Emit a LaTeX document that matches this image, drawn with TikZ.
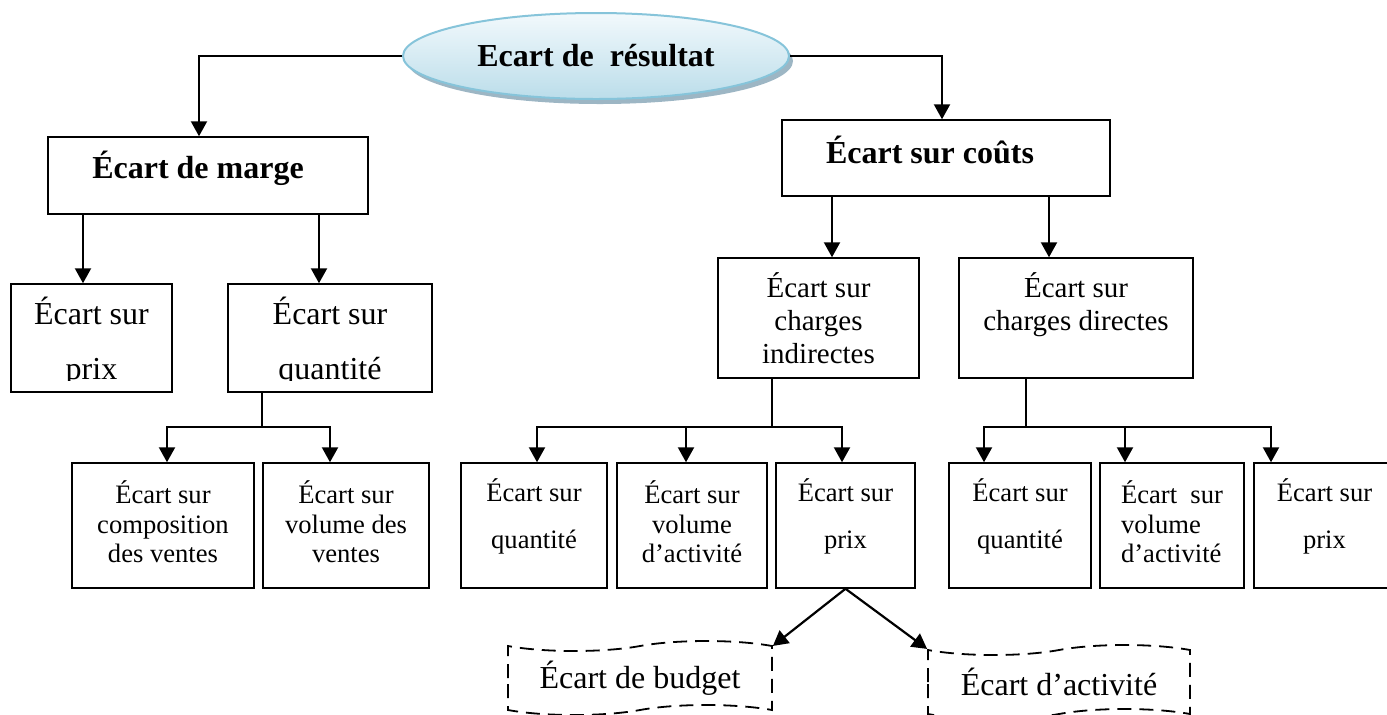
\documentclass[tikz,border=0pt]{standalone}
\usepackage{fontspec}
\setmainfont{Liberation Serif}
\usetikzlibrary{shapes.geometric,shapes.symbols,arrows.meta,calc,shadows}

\definecolor{ovaltop}{HTML}{F2F9FC}
\definecolor{ovalbot}{HTML}{BBDDEA}
\definecolor{ovaledge}{HTML}{86C4DA}
\definecolor{ovalshade}{HTML}{9DB6C4}

\newcommand{\headfont}{\fontsize{16}{19}\selectfont\bfseries}
\newcommand{\wide}{\fontsize{16}{27.5}\selectfont}
\newcommand{\midfont}{\fontsize{14.5}{16.5}\selectfont}
\newcommand{\smallfont}{\fontsize{13.3}{14.75}\selectfont}
\newcommand{\gapfont}{\fontsize{13.3}{23.5}\selectfont}

\tikzset{box/.style={draw, line width=0.75pt, inner sep=0pt, align=center}}
\tikzset{plain/.style={inner sep=0pt, align=center}}
\tikzset{line/.style={draw, line width=1.1pt, -{Triangle[length=7.5pt,width=8pt]}}}
\tikzset{bus/.style={draw, line width=0.7pt}}
\tikzset{lift/.style={text depth=#1}}
\tikzset{tapebox/.style={tape, draw, dash pattern=on 7pt off 4pt, line width=0.9pt,
    tape bend top=in and out, tape bend bottom=in and out, tape bend height=5pt,
    inner sep=0pt, font=\fontsize{16}{19}\selectfont}}

\begin{document}
\begin{tikzpicture}[x=0.5pt,y=-0.5pt]
\useasboundingbox (0,0) rectangle (1387,714);

% top oval
\node [ellipse, draw=ovaledge, line width=1pt, top color=ovaltop, bottom color=ovalbot,
       drop shadow={shadow xshift=2pt, shadow yshift=-2.5pt, fill=ovalshade, opacity=1},
       minimum width=193pt, minimum height=43pt, inner sep=0pt, font=\headfont]
       (res) at (596,56) {Ecart de\ \ résultat};

% first level
\node [box, minimum width=160pt, minimum height=38.5pt, font=\headfont, lift=10.5pt]
       (marge) at (208,175.5) {Écart de marge\hspace*{10pt}};
\node [box, minimum width=164pt, minimum height=38pt, font=\headfont, lift=8pt]
       (couts) at (946,158) {Écart sur coûts\hspace*{16pt}};

% margin side, text cut at the bottom of its frame
\node [box, minimum width=80.5pt, minimum height=54pt] (prixm) at (91.5,338) {};
\node [box, minimum width=102pt, minimum height=54pt] (quant) at (330,338) {};
\begin{scope}
  \clip (prixm.north west) rectangle ([yshift=6pt]quant.south east);
  \node [plain, font=\wide] (prixm-t) at (91.5,342) {Écart sur\\prix};
  \node [plain, font=\wide] (quant-t) at (330,342) {Écart sur\\quantité};
\end{scope}

\node [box, minimum width=91pt, minimum height=62.5pt, font=\smallfont, lift=3.5pt]
       (compo) at (163,525.5) {Écart sur\\composition\\des ventes};
\node [box, minimum width=83pt, minimum height=62.5pt, font=\smallfont, lift=3.5pt]
       (volv) at (346,525.5) {Écart sur\\volume des\\ventes};

% cost side
\node [box, minimum width=100.5pt, minimum height=60pt, font=\midfont]
       (indir) at (818.5,318) {Écart sur\\charges\\indirectes};
\node [box, minimum width=117pt, minimum height=60pt, font=\midfont, lift=16.7pt]
       (direc) at (1076,318) {Écart sur\\charges directes};

\node [box, minimum width=73pt, minimum height=62.5pt, font=\gapfont, lift=11.9pt]
       (qi) at (534,525.5) {Écart sur\\quantité};
\node [box, minimum width=75pt, minimum height=62.5pt, font=\smallfont, lift=3.5pt]
       (vai) at (692,525.5) {Écart sur\\volume\\d’activité};
\node [box, minimum width=69.5pt, minimum height=62.5pt, font=\gapfont, lift=11.9pt]
       (pi) at (845.5,525.5) {Écart sur\\prix};

\node [box, minimum width=71pt, minimum height=62.5pt, font=\gapfont, lift=11.9pt]
       (qd) at (1020,525.5) {Écart sur\\quantité};
\node [box, minimum width=72pt, minimum height=62.5pt, font=\smallfont, lift=3.5pt, align=left]
       (vad) at (1172,525.5) {Écart\ \ sur\\volume\\d’activité};
\node [box, minimum width=70.5pt, minimum height=62.5pt, font=\gapfont, lift=11.9pt]
       (pd) at (1324.5,525.5) {Écart sur\\prix};

% price split
\node [tapebox, minimum width=132pt, minimum height=37pt] (budget) at (640,678) {Écart de budget};
\node [tapebox, minimum width=131pt, minimum height=37pt] (activ) at (1059,682) {Écart d’activité};

% connectors
\path [line] (res.west) -| ([xshift=-4.5pt]marge.north);
\path [line] (res.east) -| ([xshift=-2pt]couts.north);

\path [line] ([xshift=-4.25pt]prixm.north |- marge.south) -- ([xshift=-4.25pt]prixm.north);
\path [line] ([xshift=-5.5pt]quant.north |- marge.south) -- ([xshift=-5.5pt]quant.north);
\path [line] ([xshift=6.75pt]indir.north |- couts.south) -- ([xshift=6.75pt]indir.north);
\path [line] ([xshift=-13.5pt]direc.north |- couts.south) -- ([xshift=-13.5pt]direc.north);

\coordinate (jq) at (262,427);
\path [bus] (jq |- quant.south) -- (jq);
\path [line] (jq) -| ([xshift=2pt]compo.north);
\path [line] (jq) -| ([xshift=-8pt]volv.north);

\coordinate (ji) at (772,427);
\path [bus] (ji |- indir.south) -- (ji);
\path [line] (ji) -| ([xshift=1.5pt]qi.north);
\path [line] (ji) -| ([xshift=-3pt]vai.north);
\path [line] (ji) -| ([xshift=-1.75pt]pi.north);

\coordinate (jd) at (1026,427);
\path [bus] (jd |- direc.south) -- (jd);
\path [line] (jd) -| ([xshift=-18pt]qd.north);
\path [line] (jd) -| ([xshift=-23.5pt]vad.north);
\path [line] (jd) -| ([xshift=-26.75pt]pd.north);

\path [line] (pi.south) -- (budget.north east);
\path [line] (pi.south) -- (activ.north west);
\end{tikzpicture}
\end{document}
